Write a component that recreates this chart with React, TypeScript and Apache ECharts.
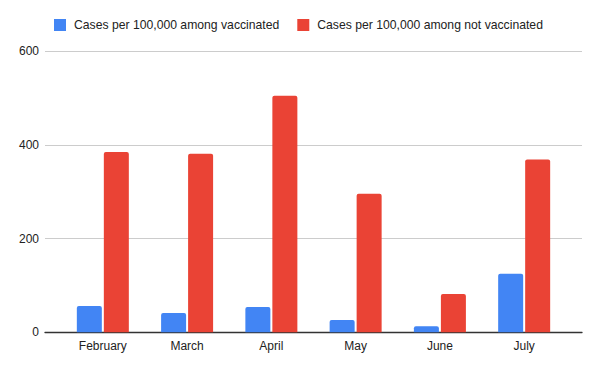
import React, { useEffect, useRef } from "react";
import * as echarts from "echarts";

const categories = ["February", "March", "April", "May", "June", "July"];
const vaccinated = [56, 41, 54, 26, 13, 125];
const notVaccinated = [385, 381, 505, 296, 82, 369];
const seriesNames = [
  "Cases per 100,000 among vaccinated",
  "Cases per 100,000 among not vaccinated",
];
const yTicks = [0, 200, 400, 600];

export default function App() {
  const ref = useRef<HTMLDivElement>(null);
  useEffect(() => {
    if (!ref.current) return;
    const chart = echarts.init(ref.current, null, { renderer: "svg" });
    const font = "'Liberation Sans', Arial, sans-serif";
    const top = 51.3;
    const bottom = 38.7;
    chart.setOption({
      animation: false,
      backgroundColor: "#ffffff",
      textStyle: { fontFamily: font },
      legend: {
        top: 14,
        left: 49,
        itemWidth: 12,
        itemHeight: 12,
        itemGap: 18,
        icon: "rect",
        textStyle: { fontSize: 12.2, color: "#222222", fontFamily: font, padding: [0, 0, 0, 3] },
        data: seriesNames,
      },
      grid: [
        { left: 45, right: 18, top, bottom, containLabel: false },
        { left: 60.7, right: 33.7, top, bottom, containLabel: false },
      ],
      xAxis: [
        {
          gridIndex: 0,
          type: "value",
          min: 0,
          max: 1,
          axisLine: { show: true, onZero: false, lineStyle: { color: "#333333", width: 1.3 } },
          axisTick: { show: false },
          axisLabel: { show: false },
          splitLine: { show: false },
        },
        {
          gridIndex: 1,
          type: "category",
          data: categories,
          axisLine: { show: false },
          axisTick: { show: false },
          axisLabel: { color: "#222222", fontSize: 12, margin: 8, fontFamily: font },
        },
      ],
      yAxis: [
        {
          gridIndex: 0,
          type: "value",
          min: yTicks[0],
          max: yTicks[yTicks.length - 1],
          interval: 200,
          axisLine: { show: false },
          axisTick: { show: false },
          axisLabel: { color: "#222222", fontSize: 12, margin: 6, fontFamily: font },
          splitLine: { show: true, lineStyle: { color: "#cccccc", width: 1 } },
        },
        {
          gridIndex: 1,
          type: "value",
          min: yTicks[0],
          max: yTicks[yTicks.length - 1],
          interval: 200,
          show: false,
          splitLine: { show: false },
        },
      ],
      series: [
        {
          name: seriesNames[0],
          type: "bar",
          xAxisIndex: 1,
          yAxisIndex: 1,
          data: vaccinated,
          barWidth: 25,
          barGap: "8%",
          itemStyle: { color: "#4285F4", borderRadius: [2, 2, 0, 0] },
        },
        {
          name: seriesNames[1],
          type: "bar",
          xAxisIndex: 1,
          yAxisIndex: 1,
          data: notVaccinated,
          barWidth: 25,
          barGap: "8%",
          itemStyle: { color: "#EA4335", borderRadius: [2, 2, 0, 0] },
        },
      ],
    });
    return () => chart.dispose();
  }, []);
  return <div ref={ref} style={{ width: 600, height: 371, position: "absolute", left: 0, top: 0 }} />;
}
